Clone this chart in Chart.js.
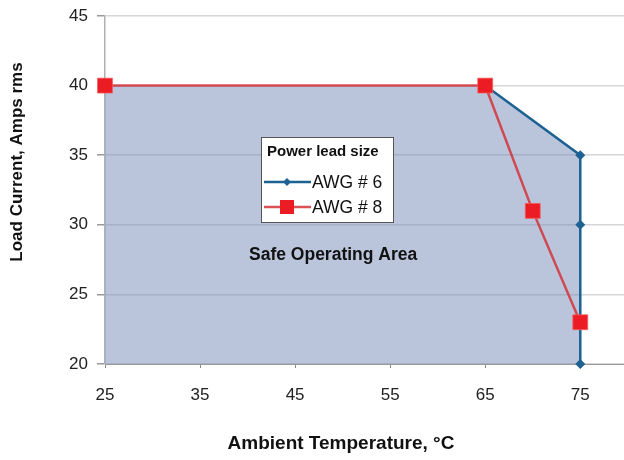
<!DOCTYPE html>
<html><head><meta charset="utf-8">
<script src="https://cdn.jsdelivr.net/npm/chart.js@4"></script>
<style>html,body{margin:0;padding:0;background:#fff;overflow:hidden}#wrap{width:624px;height:460px}</style>
</head><body><div id="wrap"><canvas id="c" width="624" height="460"></canvas></div>
<script>
const awg6Temp = [65, 75, 75, 75];
const awg6Current = [40, 35, 30, 20];
const awg8Temp = [25, 65, 70, 75];
const awg8Current = [40, 40, 31, 23];
const xTicks = [25, 35, 45, 55, 65, 75];
const yTicks = [20, 25, 30, 35, 40, 45];
const seriesNames = ['AWG # 6', 'AWG # 8'];
const legendTitle = 'Power lead size';
const areaLabel = 'Safe Operating Area';
const xTitle = 'Ambient Temperature, °C';
const yTitle = 'Load Current, Amps rms';

const safeTemp = [awg8Temp[0], ...awg6Temp];
const safeCurrent = [awg8Current[0], ...awg6Current];
const pts = (xs, ys) => xs.map((x, i) => ({x, y: ys[i]}));

const BLUE = '#1d6293';
const RED_LINE = 'rgba(212,50,58,0.85)';
const RED = '#ec1c24';
const FONT = '"Liberation Sans", Arial, sans-serif';

const overlay = {
  id: 'overlay',
  afterDraw(chart) {
    const {ctx} = chart;
    ctx.save();
    ctx.fillStyle = '#111';
    ctx.textAlign = 'center';
    ctx.textBaseline = 'middle';
    ctx.font = 'bold 19px ' + FONT;
    ctx.fillText(xTitle, 341, 444);
    ctx.translate(17, 162);
    ctx.rotate(-Math.PI / 2);
    ctx.font = 'bold 17px ' + FONT;
    ctx.fillText(yTitle, 0, 0);
    ctx.restore();
  },
  afterDatasetsDraw(chart) {
    const {ctx, chartArea: ca, scales} = chart;
    ctx.save();
    ctx.fillStyle = '#111';
    ctx.font = 'bold 17.5px ' + FONT;
    ctx.textAlign = 'center';
    ctx.textBaseline = 'middle';
    ctx.fillText(areaLabel, scales.x.getPixelForValue(49), scales.y.getPixelForValue(27.8));
    const bx = ca.left + 156, by = ca.top + 121, bw = 132, bh = 85;
    ctx.fillStyle = '#fff';
    ctx.fillRect(bx, by, bw, bh);
    ctx.strokeStyle = '#555';
    ctx.lineWidth = 1;
    ctx.strokeRect(bx + 0.5, by + 0.5, bw, bh);
    ctx.textAlign = 'left';
    ctx.fillStyle = '#111';
    ctx.font = 'bold 15px ' + FONT;
    ctx.fillText(legendTitle, bx + 6, by + 15);
    ctx.font = '17.5px ' + FONT;
    const rows = [
      {y: by + 45, color: BLUE, marker: 'diamond'},
      {y: by + 70, color: RED, marker: 'square'}
    ];
    rows.forEach((r, i) => {
      ctx.strokeStyle = i === 0 ? BLUE : RED_LINE;
      ctx.lineWidth = 2.5;
      ctx.beginPath();
      ctx.moveTo(bx + 3, r.y); ctx.lineTo(bx + 50, r.y); ctx.stroke();
      ctx.fillStyle = r.color;
      ctx.beginPath();
      const cx = bx + 26;
      if (r.marker === 'diamond') {
        ctx.moveTo(cx - 4, r.y); ctx.lineTo(cx, r.y - 4); ctx.lineTo(cx + 4, r.y); ctx.lineTo(cx, r.y + 4);
      } else {
        ctx.rect(cx - 7, r.y - 7, 14, 14);
      }
      ctx.closePath(); ctx.fill();
      ctx.fillStyle = '#111';
      ctx.fillText(seriesNames[i], bx + 51, r.y + 1);
    });
    ctx.restore();
  }
};

new Chart(document.getElementById('c'), {
  type: 'scatter',
  data: {
    datasets: [
      {
        label: seriesNames[1], data: pts(awg8Temp, awg8Current), showLine: true, clip: false,
        borderColor: RED_LINE, borderWidth: 2.5, backgroundColor: RED,
        pointStyle: 'rect', pointRadius: 10.5, pointBorderWidth: 1, pointBorderColor: 'rgba(245,90,90,0.8)',
        order: 1
      },
      {
        label: seriesNames[0], data: pts(awg6Temp, awg6Current), showLine: true, clip: false,
        borderColor: BLUE, borderWidth: 2.5, backgroundColor: BLUE,
        pointStyle: 'rectRot', pointRadius: 5, pointBorderWidth: 0,
        order: 2
      },
      {
        label: 'area', data: pts(safeTemp, safeCurrent), showLine: true,
        borderWidth: 0, borderColor: 'rgba(0,0,0,0)', pointRadius: 0,
        fill: 'start', backgroundColor: 'rgba(118,139,186,0.5)',
        order: 3
      }
    ]
  },
  options: {
    responsive: false,
    animation: false,
    layout: {autoPadding: false, padding: {top: 16, right: 0, left: 0, bottom: 0}},
    plugins: {legend: {display: false}, tooltip: {enabled: false}, filler: {propagate: false}},
    scales: {
      x: {
        type: 'linear', min: 25, max: 79.6,
        afterBuildTicks: s => { s.ticks = xTicks.map(v => ({value: v})); },
        afterFit: s => { s.height = 96; s.paddingLeft = 0; s.paddingRight = 0; },
        grid: {drawOnChartArea: false, drawTicks: true, tickLength: 4, color: '#888'},
        border: {display: true, color: '#9a9a9a', width: 1},
        ticks: {font: {family: FONT, size: 17}, color: '#222', padding: 17, maxRotation: 0},
        title: {display: false}
      },
      y: {
        type: 'linear', min: 20, max: 45,
        afterBuildTicks: s => { s.ticks = yTicks.map(v => ({value: v})); },
        afterFit: s => { s.width = 105; s.paddingTop = 0; s.paddingBottom = 0; },
        grid: {color: '#d6d6d6', lineWidth: 1.5, tickLength: 8, tickColor: '#999'},
        border: {display: true, color: '#b0b0b0', width: 1.5},
        ticks: {font: {family: FONT, size: 17}, color: '#222', padding: 9},
        title: {display: false}
      }
    }
  },
  plugins: [overlay]
});
</script>
</body></html>
